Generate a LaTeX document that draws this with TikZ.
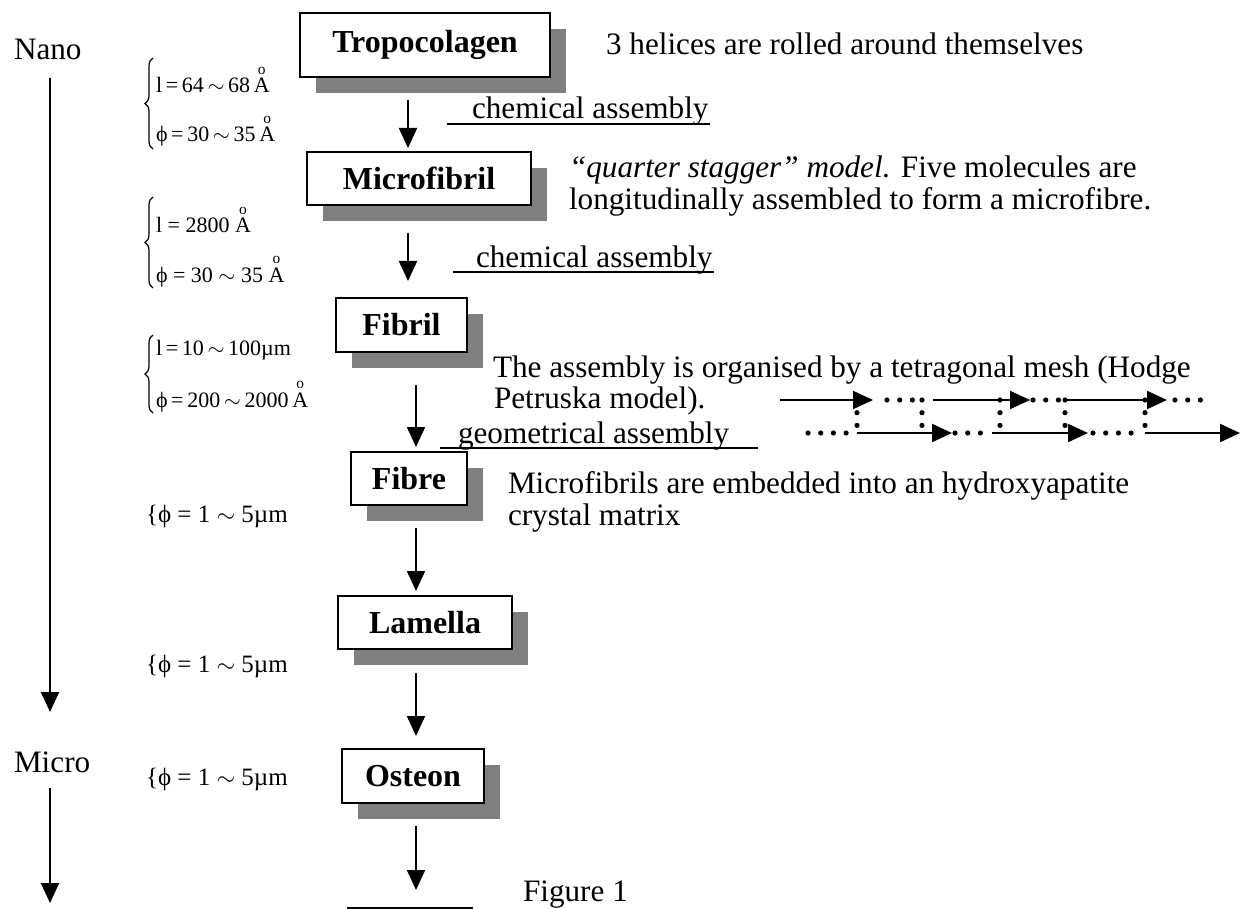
\documentclass[tikz,border=0pt]{standalone}
\usepackage{amsmath}
\usepackage{fontspec}
\setmainfont{Liberation Serif}
\usetikzlibrary{arrows.meta}
\usetikzlibrary{shadows}
\usetikzlibrary{decorations.pathreplacing}

\newcommand{\angA}{\ensuremath{\overset{\text{o}}{\text{A}}}}

\begin{document}
\begin{tikzpicture}[x=0.5pt, y=-0.5pt, ->, >={Triangle[width=9pt,length=10pt]}, line width=1pt,
    stage/.style = {draw, fill=white, inner sep=0pt, font=\fontsize{16}{16}\selectfont\bfseries,
        drop shadow={shadow xshift=8pt, shadow yshift=-8pt, fill=gray, opacity=1}},
    txt/.style = {anchor=base west, inner sep=0pt, font=\fontsize{15.6}{16}\selectfont},
    dim/.style = {anchor=base west, inner sep=0pt, font=\fontsize{11}{11}\selectfont},
    dimbig/.style = {anchor=base west, inner sep=0pt, font=\fontsize{12.5}{12.5}\selectfont},
    dots/.style = {-, line width=2.6pt, line cap=round, dash pattern=on 0pt off 6.35pt},
    brc/.style = {-, line width=0.6pt, decorate, decoration={brace, amplitude=4pt}}]
    \useasboundingbox (0,0) rectangle (1252,909);
    % Nodes

    \node[stage, minimum width=125pt, minimum height=32pt] (tropo) at (425,45) {Tropocolagen};
    \node[stage, minimum width=112pt, minimum height=26.5pt] (micro) at (419,178.5) {Microfibril};
    \node[stage, minimum width=65.5pt, minimum height=27pt] (fibril) at (401.5,325) {Fibril};
    \node[stage, minimum width=58pt, minimum height=26.5pt] (fibre) at (409,478.5) {Fibre};
    \node[stage, minimum width=87pt, minimum height=26.5pt] (lamella) at (425,622.5) {Lamella};
    \node[stage, minimum width=71pt, minimum height=27pt] (osteon) at (413,776) {Osteon};

    \node[txt] (nano) at (13,60) {Nano};
    \node[txt] (microscale) at (13,772) {Micro};

    \node[txt] (helix) at (605,55) {3 helices are rolled around themselves};
    \node[txt] (stagger1) at (568,178) {\textit{“quarter stagger” model.} Five molecules are};
    \node[txt] (stagger2) at (568,210) {longitudinally assembled to form a microfibre.};
    \node[txt] (mesh1) at (492,377) {The assembly is organised by a tetragonal mesh (Hodge};
    \node[txt] (mesh2) at (493,408) {Petruska model).};
    \node[txt] (embed1) at (507,493) {Microfibrils are embedded into an hydroxyapatite};
    \node[txt] (embed2) at (507,525) {crystal matrix};
    \node[txt] (fig) at (522,901) {Figure 1};

    \node[txt] (chem1) at (447,119) {\hspace{12pt}chemical assembly};
    \node[txt] (chem2) at (453,267) {\hspace{11pt}chemical assembly};
    \node[txt] (geom) at (440,443) {\kern8.5pt geometrical assembly\kern14pt};

    \node[dim] (len1) at (155,93) {l\,=\,64\,$\sim$\,68\,\angA};
    \node[dim] (dia1) at (155,142) {ϕ\,=\,30\,$\sim$\,35\,\angA};
    \node[dim] (len2) at (155,233) {l = 2800 \angA};
    \node[dim] (dia2) at (155,282) {ϕ = 30 $\sim$ 35 \angA};
    \node[dim] (len3) at (155,355) {l\,=\,10\,$\sim$\,100µm};
    \node[dim] (dia3) at (155,407) {ϕ\,=\,200\,$\sim$\,2000\,\angA};
    \node[dimbig] (dia4) at (145,522) {\{ϕ = 1 $\sim$ 5µm};
    \node[dimbig] (dia5) at (145,672) {\{ϕ = 1 $\sim$ 5µm};
    \node[dimbig] (dia6) at (145,785) {\{ϕ = 1 $\sim$ 5µm};

    \coordinate (scaletop) at (50,78);
    \coordinate (scalemid) at (50,712);
    \coordinate (scalelow) at (50,788);
    \coordinate (scaleend) at (50,903);
    \coordinate (a1) at (408,100);
    \coordinate (a2) at (408,233);
    \coordinate (a3) at (416,385);
    \coordinate (a4) at (416,528);
    \coordinate (a5) at (416,673);
    \coordinate (a6) at (416,826);
    \coordinate (endl) at (347,908);
    \coordinate (endr) at (473,908);

    % Edges

    \draw (scaletop) -- (scalemid);
    \draw (scalelow) -- (scaleend);

    \draw[shorten >=1.5pt] (a1) -- (a1 |- micro.north);
    \draw[shorten >=8pt] (a2) -- (a2 |- fibril.north);
    \draw[shorten >=2pt] (a3) -- (a3 |- fibre.north);
    \draw[shorten >=2pt] (a4) -- (a4 |- lamella.north);
    \draw[shorten >=6pt] (a5) -- (a5 |- osteon.north);
    \draw[shorten >=9pt] (a6) -- (a6 |- endl);
    \draw[-] (endl) -- (endr);

    \draw[-] ([yshift=-2.5pt]chem1.base west) -- ([yshift=-2.5pt]chem1.base east);
    \draw[-] ([yshift=-2.5pt]chem2.base west) -- ([yshift=-2.5pt]chem2.base east);
    \draw[-] ([yshift=-2.5pt]geom.base west) -- ([yshift=-2.5pt]geom.base east);

    \draw[brc] (153,149) -- (153,58);
    \draw[brc] (153,288) -- (153,197);
    \draw[brc] (153,413) -- (153,335);

    % tetragonal mesh
    \draw (780,400) -- (873,400);
    \draw[dots] (887,400) -- (925,400);
    \draw (933,400) -- (1030,400);
    \draw[dots] (1033,400) -- (1067,400);
    \draw (1067,400) -- (1167,400);
    \draw[dots] (1175,400) -- (1213,400);

    \draw[dots] (808,433) -- (848,433);
    \draw (857,433) -- (952,433);
    \draw[dots] (955,433) -- (990,433);
    \draw (992,433) -- (1088,433);
    \draw[dots] (1093,433) -- (1133,433);
    \draw (1145,433) -- (1240,433);

    \draw[dots] (857,400) -- (857,433);
    \draw[dots] (922,400) -- (922,433);
    \draw[dots] (1000,400) -- (1000,433);
    \draw[dots] (1065,400) -- (1065,433);
    \draw[dots] (1145,400) -- (1145,433);

\end{tikzpicture}
\end{document}
